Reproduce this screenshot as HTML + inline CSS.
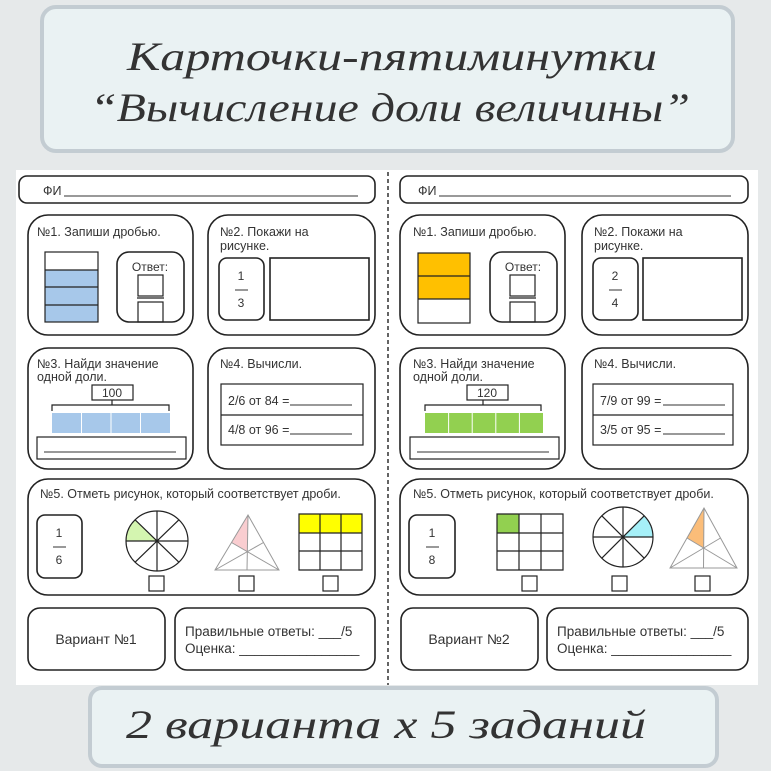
<!DOCTYPE html>
<html><head><meta charset="utf-8"><style>
html,body{margin:0;padding:0;background:#e6e9ea;}
svg{display:block;}
text{font-family:"Liberation Sans",sans-serif;fill:#333;}
.t{font-size:12.5px;}
.s{fill:none;stroke:#222;stroke-width:1.6;}
.b{fill:none;stroke:#222;stroke-width:1.2;}
.g{stroke:#999;stroke-width:1;}
.sc{font-family:"Liberation Serif",serif;font-style:italic;fill:#333;}
</style></head><body>
<svg width="771" height="771" viewBox="0 0 771 771" xmlns="http://www.w3.org/2000/svg">
<rect width="771" height="771" fill="#e6e9ea"/>
<!-- top banner -->
<rect x="42" y="7" width="691" height="144" rx="14" fill="#eaf2f3" stroke="#c3ccd2" stroke-width="4"/>
<text class="sc" x="392" y="70" font-size="40" text-anchor="middle" textLength="530" lengthAdjust="spacingAndGlyphs">Карточки-пятиминутки</text>
<text class="sc" x="390" y="121" font-size="40" text-anchor="middle" textLength="600" lengthAdjust="spacingAndGlyphs">“Вычисление доли величины”</text>
<!-- page -->
<rect x="16" y="170" width="742" height="515" fill="#fff"/>
<line x1="388" y1="172" x2="388" y2="685" stroke="#222" stroke-width="1.4" stroke-dasharray="4,3"/>

<!-- LEFT CARD -->
<rect class="s" x="19" y="176" width="356" height="27" rx="8"/>
<text class="t" x="43" y="195">ФИ</text><line x1="64" y1="196" x2="358" y2="196" stroke="#333"/>
<rect class="s" x="28" y="215" width="165" height="120" rx="20"/>
<text class="t" x="37" y="236">№1. Запиши дробью.</text>
<rect x="45" y="252" width="53" height="18" fill="#fff"/>
<rect x="45" y="270" width="53" height="52" fill="#a7c8ea"/>
<rect class="b" x="45" y="252" width="53" height="70"/>
<line class="b" x1="45" y1="270" x2="98" y2="270"/><line class="b" x1="45" y1="287" x2="98" y2="287"/><line class="b" x1="45" y1="305" x2="98" y2="305"/>
<rect class="s" x="117" y="252" width="67" height="70" rx="12"/>
<text x="150" y="271" font-size="12" text-anchor="middle">Ответ:</text>
<rect class="b" x="138" y="275" width="25" height="21"/><line class="b" x1="137" y1="298" x2="164" y2="298"/><rect class="b" x="138" y="302" width="25" height="20"/>
<rect class="s" x="208" y="215" width="167" height="120" rx="20"/>
<text class="t" x="220" y="236">№2. Покажи на</text><text class="t" x="220" y="250">рисунке.</text>
<rect class="s" x="219" y="258" width="45" height="62" rx="8"/>
<text x="241" y="280" font-size="12" text-anchor="middle">1</text><line x1="235" y1="290" x2="248" y2="290" stroke="#333"/><text x="241" y="307" font-size="12" text-anchor="middle">3</text>
<rect class="s" x="270" y="258" width="99" height="62"/>
<rect class="s" x="28" y="348" width="165" height="121" rx="20"/>
<text class="t" x="37" y="368">№3. Найди значение</text><text class="t" x="37" y="381">одной доли.</text>
<rect class="b" x="92" y="385" width="41" height="15" fill="#fff"/><text x="112" y="397" font-size="12" text-anchor="middle">100</text>
<path class="b" d="M52 411 V405 H169 V411 M112 400 V405"/>
<rect x="52" y="413" width="118" height="20" fill="#a7c8ea"/>
<line x1="81.5" y1="413" x2="81.5" y2="433" stroke="#fff"/><line x1="111" y1="413" x2="111" y2="433" stroke="#fff"/><line x1="140.5" y1="413" x2="140.5" y2="433" stroke="#fff"/>
<rect class="b" x="37" y="437" width="149" height="22"/><line x1="44" y1="452" x2="176" y2="452" stroke="#333"/>
<rect class="s" x="208" y="348" width="167" height="121" rx="20"/>
<text class="t" x="220" y="368">№4. Вычисли.</text>
<rect class="b" x="221" y="384" width="142" height="61"/><line class="b" x1="221" y1="415" x2="363" y2="415"/>
<text class="t" x="228" y="405">2/6 от 84 =</text><line x1="290" y1="405" x2="352" y2="405" stroke="#333"/>
<text class="t" x="228" y="434">4/8 от 96 =</text><line x1="290" y1="434" x2="352" y2="434" stroke="#333"/>
<rect class="s" x="28" y="479" width="347" height="116" rx="20"/>
<text class="t" x="40" y="498">№5. Отметь рисунок, который соответствует дроби.</text>
<rect class="s" x="37" y="515" width="45" height="63" rx="8"/>
<text x="59" y="537" font-size="12" text-anchor="middle">1</text><line x1="53" y1="547" x2="66" y2="547" stroke="#333"/><text x="59" y="564" font-size="12" text-anchor="middle">6</text>
<path d="M157 541 L126 541 A31 30 0 0 1 135.1 519.8 Z" fill="#d4f5b0"/>
<ellipse class="b" cx="157" cy="541" rx="31" ry="30"/>
<path class="b" d="M126 541H188M157 511V571M135.1 519.8L178.9 562.2M178.9 519.8L135.1 562.2"/>
<circle cx="157" cy="541" r="1.5" fill="#222"/>
<path d="M248 515 L247.3 551.7 L231.5 542.5 Z" fill="#f9cdd0"/>
<path class="g" d="M248 515L215 570H279ZM248 515L247 570M215 570L263.5 542.5M279 570L231.5 542.5" fill="none"/>
<rect x="299" y="514" width="63" height="19" fill="#ffff00"/>
<path class="b" d="M299 514H362V570H299ZM299 533H362M299 551H362M320 514V570M341 514V570"/>
<rect class="b" x="149" y="576" width="15" height="15"/><rect class="b" x="239" y="576" width="15" height="15"/><rect class="b" x="323" y="576" width="15" height="15"/>
<rect class="s" x="28" y="608" width="137" height="62" rx="12"/>
<text x="96" y="644" font-size="14" text-anchor="middle">Вариант №1</text>
<rect class="s" x="175" y="608" width="200" height="62" rx="12"/>
<text x="185" y="636" font-size="13.5">Правильные ответы: ___/5</text>
<text x="185" y="653" font-size="13.5">Оценка: ________________</text>

<!-- RIGHT CARD -->
<rect class="s" x="400" y="176" width="348" height="27" rx="8"/>
<text class="t" x="418" y="195">ФИ</text><line x1="439" y1="196" x2="731" y2="196" stroke="#333"/>
<rect class="s" x="400" y="215" width="165" height="120" rx="20"/>
<text class="t" x="413" y="236">№1. Запиши дробью.</text>
<rect x="418" y="253" width="52" height="46" fill="#ffc000"/>
<rect class="b" x="418" y="253" width="52" height="70"/>
<line class="b" x1="418" y1="276" x2="470" y2="276"/><line class="b" x1="418" y1="299" x2="470" y2="299"/>
<rect class="s" x="490" y="252" width="67" height="70" rx="12"/>
<text x="523" y="271" font-size="12" text-anchor="middle">Ответ:</text>
<rect class="b" x="510" y="275" width="25" height="21"/><line class="b" x1="509" y1="298" x2="536" y2="298"/><rect class="b" x="510" y="302" width="25" height="20"/>
<rect class="s" x="582" y="215" width="166" height="120" rx="20"/>
<text class="t" x="594" y="236">№2. Покажи на</text><text class="t" x="594" y="250">рисунке.</text>
<rect class="s" x="593" y="258" width="45" height="62" rx="8"/>
<text x="615" y="280" font-size="12" text-anchor="middle">2</text><line x1="609" y1="290" x2="622" y2="290" stroke="#333"/><text x="615" y="307" font-size="12" text-anchor="middle">4</text>
<rect class="s" x="643" y="258" width="99" height="62"/>
<rect class="s" x="400" y="348" width="165" height="121" rx="20"/>
<text class="t" x="413" y="368">№3. Найди значение</text><text class="t" x="413" y="381">одной доли.</text>
<rect class="b" x="467" y="385" width="41" height="15" fill="#fff"/><text x="487" y="397" font-size="12" text-anchor="middle">120</text>
<path class="b" d="M425 411 V405 H541 V411 M483 400 V405"/>
<rect x="425" y="413" width="118" height="20" fill="#92d050"/>
<line x1="448.6" y1="413" x2="448.6" y2="433" stroke="#fff"/><line x1="472.2" y1="413" x2="472.2" y2="433" stroke="#fff"/><line x1="495.8" y1="413" x2="495.8" y2="433" stroke="#fff"/><line x1="519.4" y1="413" x2="519.4" y2="433" stroke="#fff"/>
<rect class="b" x="410" y="437" width="149" height="22"/><line x1="417" y1="452" x2="549" y2="452" stroke="#333"/>
<rect class="s" x="582" y="348" width="166" height="121" rx="20"/>
<text class="t" x="594" y="368">№4. Вычисли.</text>
<rect class="b" x="593" y="384" width="140" height="61"/><line class="b" x1="593" y1="415" x2="733" y2="415"/>
<text class="t" x="600" y="405">7/9 от 99 =</text><line x1="663" y1="405" x2="725" y2="405" stroke="#333"/>
<text class="t" x="600" y="434">3/5 от 95 =</text><line x1="663" y1="434" x2="725" y2="434" stroke="#333"/>
<rect class="s" x="400" y="479" width="348" height="116" rx="20"/>
<text class="t" x="413" y="498">№5. Отметь рисунок, который соответствует дроби.</text>
<rect class="s" x="409" y="515" width="46" height="63" rx="8"/>
<text x="432" y="537" font-size="12" text-anchor="middle">1</text><line x1="426" y1="547" x2="439" y2="547" stroke="#333"/><text x="432" y="564" font-size="12" text-anchor="middle">8</text>
<rect x="497" y="514" width="22" height="19" fill="#92d050"/>
<path class="b" d="M497 514H563V570H497ZM497 533H563M497 551H563M519 514V570M541 514V570"/>
<path d="M623 537 L653 537 A30 30 0 0 0 644.2 515.8 Z" fill="#a6f0f8"/>
<circle class="b" cx="623" cy="537" r="30"/>
<path class="b" d="M593 537H653M623 507V567M601.8 515.8L644.2 558.2M644.2 515.8L601.8 558.2"/>
<circle cx="623" cy="537" r="1.5" fill="#222"/>
<path d="M704 508 L703.7 548 L687 538 Z" fill="#fbbd79"/>
<path class="g" d="M704 508L670 568H737ZM704 508L703.5 568M670 568L720.5 538M737 568L687 538" fill="none"/>
<rect class="b" x="522" y="576" width="15" height="15"/><rect class="b" x="612" y="576" width="15" height="15"/><rect class="b" x="695" y="576" width="15" height="15"/>
<rect class="s" x="401" y="608" width="137" height="62" rx="12"/>
<text x="469" y="644" font-size="14" text-anchor="middle">Вариант №2</text>
<rect class="s" x="547" y="608" width="201" height="62" rx="12"/>
<text x="557" y="636" font-size="13.5">Правильные ответы: ___/5</text>
<text x="557" y="653" font-size="13.5">Оценка: ________________</text>

<!-- bottom banner -->
<rect x="90" y="688" width="627" height="78" rx="12" fill="#eaf2f3" stroke="#c3ccd2" stroke-width="4"/>
<text class="sc" x="386" y="738" font-size="40" text-anchor="middle" textLength="520" lengthAdjust="spacingAndGlyphs">2 варианта  x  5 заданий</text>
</svg>
</body></html>
